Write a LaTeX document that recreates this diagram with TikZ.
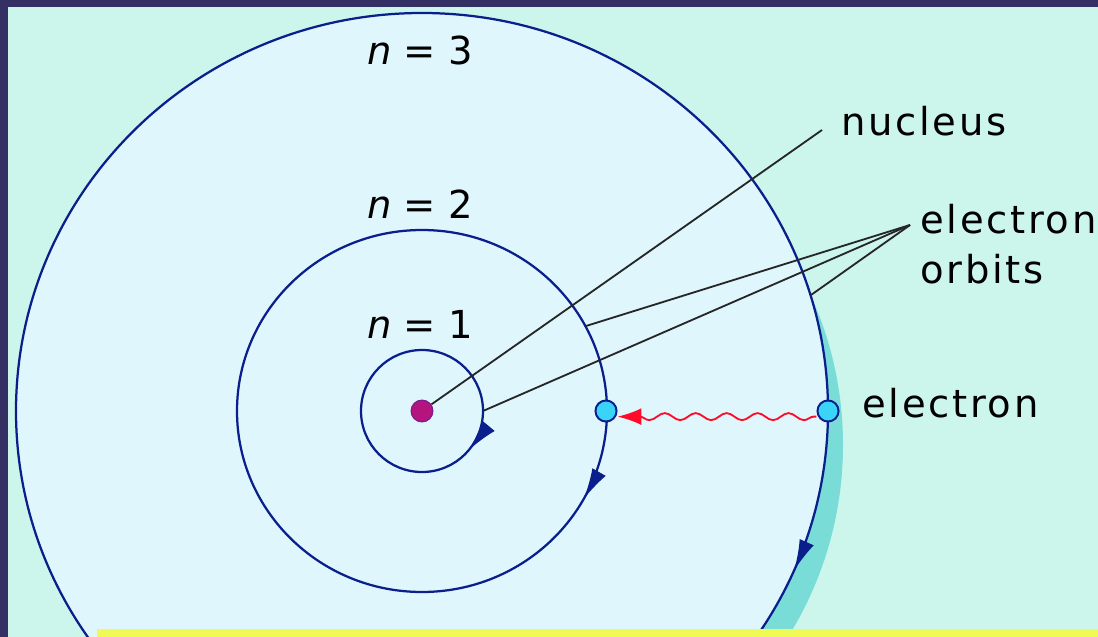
\documentclass[tikz,border=0pt]{standalone}
\usepackage{fontspec}
\setmainfont{DejaVu Sans}
\newfontfamily\wordfont[LetterSpace=7]{DejaVu Sans}
\usetikzlibrary{arrows.meta,decorations.pathmorphing,decorations.markings}

\definecolor{framenavy}{HTML}{343063}
\definecolor{mint}{HTML}{CCF5EC}
\definecolor{innerblue}{HTML}{DFF6FC}
\definecolor{orbitblue}{HTML}{0A1E8C}
\definecolor{rimcyan}{HTML}{7ADCD6}
\definecolor{baryellow}{HTML}{F0FA55}
\definecolor{nucleusfill}{HTML}{B5147F}
\definecolor{nucleusrim}{HTML}{7A1A8E}
\definecolor{electronfill}{HTML}{3AD4F8}
\definecolor{photonred}{HTML}{FF0A28}

\begin{document}
\begin{tikzpicture}[x=0.025cm, y=-0.025cm,
		orbit/.style={draw, color=orbitblue, line width=1.6pt},
		spin/.style={postaction={decorate}, decoration={markings, mark=at position #1 with {\arrow{Latex[length=22pt,width=11pt]}}}},
		leader/.style={draw=black!85, line width=1.3pt},
		electron/.style={circle, draw=orbitblue, line width=1.4pt, fill=electronfill, minimum size=15pt, inner sep=0pt},
		nucleus/.style={circle, draw=nucleusrim, line width=0.8pt, fill=nucleusfill, minimum size=15.5pt, inner sep=0pt},
		photon/.style={draw, color=photonred, line width=1.3pt, decorate, decoration={snake, amplitude=2.5pt, segment length=22pt, pre length=2pt, post length=14pt}, -{Latex[length=17pt,width=12pt]}},
		lbl/.style={inner sep=0pt, font=\fontsize{27.4}{35.6}\selectfont},
		wordlbl/.style={inner sep=0pt, font=\wordfont\fontsize{27.4}{35.6}\selectfont}]
	
	\useasboundingbox (0,0) rectangle (1098,637);
	\clip (0,0) rectangle (1098,637);
	
	% frame and background
	\fill[framenavy] (0,0) rectangle (1098,637);
	\fill[mint] (8,7) rectangle (1098,637);
	
	% orbits
	\fill[rimcyan] (466,445) ellipse [x radius=377, y radius=369];
	\draw[orbit, fill=innerblue, spin=0.065] (422,411) ellipse [x radius=406, y radius=398];
	\draw[orbit, spin=0.08] (422,411) ellipse [x radius=185, y radius=181];
	\draw[orbit, spin=0.11] (422,411) ellipse [x radius=61, y radius=61];
	
	\node[nucleus] (nuc) at (422,411) {};
	\node[electron] (e2) at (606,411) {};
	\node[electron] (e3) at (828,411) {};
	
	\node[lbl, anchor=base west] (n3lbl) at (367,65) {\textit{n} = 3};
	\node[lbl, anchor=base west] (n2lbl) at (367,218) {\textit{n} = 2};
	\node[lbl, anchor=base west] (n1lbl) at (367,338) {\textit{n} = 1};
	\node[wordlbl, anchor=base west] (nuclbl) at (841,136) {nucleus};
	\node[wordlbl, anchor=north west, align=left] (orblbl) at (920,204) {electron\\orbits};
	\node[wordlbl, anchor=base west] (elelbl) at (862,417) {electron};
	
	% leaders
	\coordinate (orbfork) at (910,225);
	\coordinate (o1pt) at (483,411);
	\coordinate (o2pt) at (586,326);
	\coordinate (o3pt) at (811,295);
	\draw[leader] (nuc) -- ([shift={(-19,-6)}]nuclbl.base west);
	\draw[leader] (orbfork) -- (o1pt);
	\draw[leader] (orbfork) -- (o2pt);
	\draw[leader] (orbfork) -- (o3pt);
	
	\draw[photon] ([yshift=-4pt]e3.west) -- ([yshift=-4pt]e2.east);
	
	\fill[baryellow] (97,629) rectangle (1098,637);
	
\end{tikzpicture}
\end{document}
